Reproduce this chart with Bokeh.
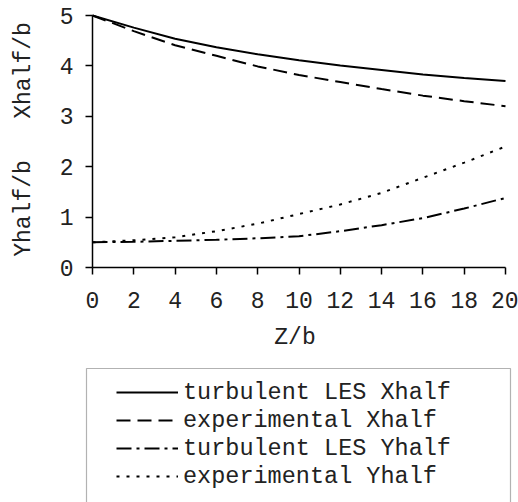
import math
from bokeh.plotting import figure
from bokeh.models import Range1d, Legend, LegendItem, BoxAnnotation, FixedTicker, Label
from bokeh.embed import file_html
from bokeh.resources import INLINE

# Half-width growth along the jet axis
z = [0, 2, 4, 6, 8, 10, 12, 14, 16, 18, 20]
les_xhalf = [5.00, 4.76, 4.54, 4.37, 4.23, 4.11, 4.01, 3.92, 3.83, 3.76, 3.70]
exp_xhalf = [5.00, 4.69, 4.41, 4.20, 3.99, 3.82, 3.68, 3.54, 3.41, 3.30, 3.20]
les_yhalf = [0.50, 0.51, 0.53, 0.55, 0.58, 0.62, 0.72, 0.84, 0.98, 1.17, 1.38]
exp_yhalf = [0.50, 0.54, 0.60, 0.72, 0.87, 1.06, 1.25, 1.48, 1.78, 2.08, 2.40]

x_ticks = [0, 2, 4, 6, 8, 10, 12, 14, 16, 18, 20]
y_ticks = [0, 1, 2, 3, 4, 5]
labels = ["turbulent LES Xhalf", "experimental Xhalf",
          "turbulent LES Yhalf", "experimental Yhalf"]

FONT = "Liberation Mono"
INK = "#222222"

# pixel scale of the data area: 0..20 over 413 px, 0..5 over 252 px
PX_X = 413 / 20
PX_Y = 252 / 5

# the plot frame fills the whole canvas; the axes sit at fixed data positions
p = figure(width=518, height=502, output_backend="svg", toolbar_location=None,
           min_border=0,
           x_range=Range1d(-92 / PX_X, 20 + 13 / PX_X),
           y_range=Range1d(-235 / PX_Y, 5 + 15 / PX_Y))
p.outline_line_color = None
p.grid.visible = False

r1 = p.line(z, les_xhalf, line_color="black", line_width=2)
r2 = p.line(z, exp_xhalf, line_color="black", line_width=2, line_dash="14 7")
r3 = p.line(z, les_yhalf, line_color="black", line_width=2, line_dash="15 5 3 5")
r4 = p.line(z, exp_yhalf, line_color="black", line_width=2, line_dash="3 7")

# axes
p.xaxis.fixed_location = 0
p.xaxis.bounds = (0, 20)
p.xaxis.ticker = FixedTicker(ticks=x_ticks)
p.yaxis.fixed_location = 0
p.yaxis.bounds = (0, 5)
p.yaxis.ticker = FixedTicker(ticks=y_ticks)

for ax in (p.xaxis[0], p.yaxis[0]):
    ax.axis_line_color = "black"
    ax.axis_line_width = 1.5
    ax.major_tick_line_color = "black"
    ax.major_tick_line_width = 1.5
    ax.major_tick_in = 0
    ax.major_tick_out = 7
    ax.minor_tick_line_color = None
    ax.major_label_text_font = FONT
    ax.major_label_text_font_size = "23px"
    ax.major_label_text_color = INK

p.xaxis.major_label_standoff = 17
p.yaxis.major_label_standoff = 12

# axis titles
p.add_layout(Label(x=10 - 4 / PX_X, y=-70 / PX_Y, text="Z/b",
                   text_font=FONT, text_font_size="23px", text_color=INK,
                   text_align="center", text_baseline="middle"))
p.add_layout(Label(x=-69 / PX_X, y=128 / PX_Y,
                   text="Yhalf/b\u00a0\u00a0\u00a0Xhalf/b", angle=math.pi / 2,
                   text_font=FONT, text_font_size="23px", text_color=INK,
                   text_align="center", text_baseline="middle"))

# legend frame (its lower edge runs past the bottom of the canvas)
p.add_layout(BoxAnnotation(left=-6 / PX_X, right=418 / PX_X,
                           top=-101 / PX_Y, bottom=-300 / PX_Y,
                           fill_alpha=0, line_color="black", line_width=1.2))

legend = Legend(items=[LegendItem(label=labels[0], renderers=[r1]),
                       LegendItem(label=labels[1], renderers=[r2]),
                       LegendItem(label=labels[2], renderers=[r3]),
                       LegendItem(label=labels[3], renderers=[r4])],
                location=(116, 12), padding=0, spacing=0,
                glyph_width=62, glyph_height=28, label_height=28,
                label_standoff=5,
                label_text_font=FONT, label_text_font_size="23.5px",
                label_text_color=INK,
                border_line_color=None, background_fill_alpha=0)
p.add_layout(legend, "center")

open("out.html", "w").write(file_html(p, INLINE))
